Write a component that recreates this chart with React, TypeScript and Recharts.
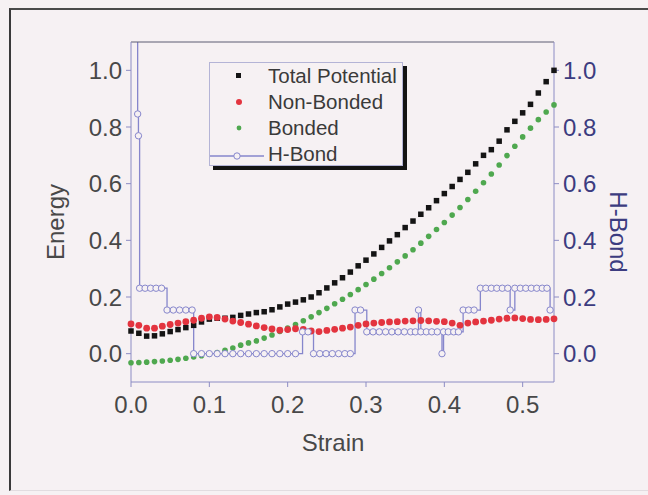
import { ComposedChart, Legend, Line, Scatter, XAxis, YAxis } from "recharts";

const FONT = '"Liberation Sans", Arial, sans-serif';

const strain = [
  0, 0.01, 0.02, 0.03, 0.04, 0.05, 0.06, 0.07, 0.08, 0.09, 0.1, 0.11, 0.12, 0.13, 0.14, 0.15, 0.16, 0.17, 0.18,
  0.19, 0.2, 0.21, 0.22, 0.23, 0.24, 0.25, 0.26, 0.27, 0.28, 0.29, 0.3, 0.31, 0.32, 0.33, 0.34, 0.35, 0.36, 0.37,
  0.38, 0.39, 0.4, 0.41, 0.42, 0.43, 0.44, 0.45, 0.46, 0.47, 0.48, 0.49, 0.5, 0.51, 0.52, 0.53, 0.54,
];

const totalPotential = [
  0.08, 0.072, 0.062, 0.063, 0.07, 0.078, 0.085, 0.092, 0.1, 0.112, 0.122, 0.125, 0.125, 0.128, 0.135, 0.14, 0.145,
  0.148, 0.155, 0.165, 0.175, 0.182, 0.19, 0.2, 0.215, 0.232, 0.25, 0.268, 0.288, 0.31, 0.33, 0.352, 0.375, 0.398,
  0.42, 0.445, 0.468, 0.492, 0.515, 0.54, 0.565, 0.59, 0.615, 0.64, 0.67, 0.7, 0.72, 0.75, 0.79, 0.82, 0.85, 0.88,
  0.92, 0.96, 1.0,
];

const nonBonded = [
  0.105, 0.1, 0.09, 0.09, 0.097, 0.103, 0.108, 0.113, 0.118, 0.125, 0.13, 0.128, 0.122, 0.115, 0.11, 0.104, 0.098,
  0.092, 0.087, 0.083, 0.085, 0.088, 0.086, 0.08, 0.078, 0.082, 0.086, 0.09, 0.094, 0.1, 0.105, 0.108, 0.11, 0.112,
  0.113, 0.115, 0.116, 0.117, 0.116, 0.114, 0.113, 0.108, 0.1, 0.108, 0.112, 0.115, 0.118, 0.122, 0.125, 0.126,
  0.124, 0.121, 0.12, 0.121, 0.123,
];

const bonded = [
  -0.032, -0.031, -0.03, -0.028, -0.026, -0.023, -0.02, -0.016, -0.012, -0.007, -0.002, 0.004, 0.012, 0.02, 0.03,
  0.038, 0.045, 0.055, 0.066, 0.078, 0.09, 0.103, 0.116, 0.13, 0.145, 0.16, 0.176, 0.192, 0.209, 0.226, 0.244, 0.263,
  0.283, 0.303, 0.324, 0.345, 0.367, 0.39, 0.414, 0.438, 0.463, 0.489, 0.516, 0.544, 0.573, 0.603, 0.634, 0.666,
  0.699, 0.732, 0.765, 0.796, 0.826, 0.853, 0.878,
];

const hBondStrain = [
  0.0085, 0.0085, 0.0095, 0.011, 0.018, 0.025, 0.032, 0.039, 0.046, 0.054, 0.062, 0.07, 0.078, 0.08, 0.09, 0.1, 0.11,
  0.12, 0.13, 0.14, 0.15, 0.16, 0.17, 0.18, 0.19, 0.2, 0.21, 0.219, 0.226, 0.233, 0.241, 0.249, 0.257, 0.265, 0.273,
  0.28, 0.286, 0.293, 0.301, 0.309, 0.317, 0.325, 0.333, 0.341, 0.349, 0.357, 0.363, 0.367, 0.37, 0.377, 0.384, 0.391,
  0.397, 0.399, 0.405, 0.412, 0.418, 0.424, 0.431, 0.438, 0.446, 0.453, 0.46, 0.467, 0.474, 0.481, 0.484, 0.49, 0.497,
  0.504, 0.511, 0.518, 0.525, 0.531, 0.535,
];

const hBondValue = [
  1.3, 0.846, 0.769, 0.231, 0.231, 0.231, 0.231, 0.231, 0.154, 0.154, 0.154, 0.154, 0.154, 0, 0, 0, 0, 0, 0, 0, 0, 0,
  0, 0, 0, 0, 0, 0.077, 0.077, 0, 0, 0, 0, 0, 0, 0, 0.154, 0.154, 0.077, 0.077, 0.077, 0.077, 0.077, 0.077, 0.077,
  0.077, 0.077, 0.154, 0.077, 0.077, 0.077, 0.077, 0, 0.077, 0.077, 0.077, 0.077, 0.154, 0.154, 0.154, 0.231, 0.231,
  0.231, 0.231, 0.231, 0.231, 0.154, 0.231, 0.231, 0.231, 0.231, 0.231, 0.231, 0.231, 0.154,
];

const energyTicks = [0, 0.2, 0.4, 0.6, 0.8, 1.0];
const strainTicks = [0, 0.1, 0.2, 0.3, 0.4, 0.5];

const totalData = strain.map((s, i) => ({ strain: s, value: totalPotential[i] }));
const nonBondedData = strain.map((s, i) => ({ strain: s, value: nonBonded[i] }));
const bondedData = strain.map((s, i) => ({ strain: s, value: bonded[i] }));
const hBondData = hBondStrain.map((s, i) => ({ strain: s, hbond: hBondValue[i] }));

const AXIS = "#8c8cc4";
const HB = "#8686cc";
const BG = "#f6f1f3";
const GREY = "#484848";
const NAVY = "#3c3c80";

const square = (size: number) => (props: any) => {
  const { cx, cy, fill } = props;
  if (cx == null || cy == null) return <g />;
  return <rect x={cx - size / 2} y={cy - size / 2} width={size} height={size} fill={fill} />;
};

const round = (r: number) => (props: any) => {
  const { cx, cy, fill } = props;
  if (cx == null || cy == null) return <g />;
  return <circle cx={cx} cy={cy} r={r} fill={fill} />;
};

// label element: own prop names so Recharts' injected x/y/angle don't clash
function AxisTitle({ px, py, rot, color, txt }: any) {
  return (
    <text
      x={px}
      y={py}
      transform={`rotate(${rot} ${px} ${py})`}
      textAnchor="middle"
      dominantBaseline="central"
      fill={color}
      fontSize={24}
      fontFamily={FONT}
    >
      {txt}
    </text>
  );
}

function LegendBox() {
  const row = { height: 26, display: "flex", alignItems: "center" } as const;
  const mark = { width: 58, display: "flex", justifyContent: "center" } as const;
  return (
    <div
      style={{
        width: 194,
        height: 104,
        border: "1px solid #b4b4d6",
        boxShadow: "4px 4px 0 #141414",
        background: BG,
        fontFamily: FONT,
        fontSize: 20.5,
        color: "#3a3a3a",
        boxSizing: "border-box",
        lineHeight: "26px",
        paddingTop: 0,
      }}
    >
      <div style={row}>
        <div style={mark}>
          <svg width="8" height="8"><rect x="1" y="1" width="5" height="5" fill="#141414" /></svg>
        </div>
        Total Potential
      </div>
      <div style={row}>
        <div style={mark}>
          <svg width="8" height="8"><circle cx="4" cy="4" r="3" fill="#e3343f" /></svg>
        </div>
        Non-Bonded
      </div>
      <div style={row}>
        <div style={mark}>
          <svg width="8" height="8"><circle cx="4" cy="4" r="2.4" fill="#4fa84f" /></svg>
        </div>
        Bonded
      </div>
      <div style={row}>
        <div style={{ width: 58 }}>
          <svg width="56" height="10">
            <line x1="0" y1="5" x2="54" y2="5" stroke={HB} strokeWidth="1.5" />
            <circle cx="27" cy="5" r="3.2" fill={BG} stroke={HB} strokeWidth="1" />
          </svg>
        </div>
        H-Bond
      </div>
    </div>
  );
}

export default function App() {
  return (
    <div style={{ position: "absolute", left: 0, top: 0, width: 648, height: 495, background: BG, overflow: "hidden" }}>
      <div
        style={{
          position: "absolute",
          left: 9,
          top: 8,
          width: 660,
          height: 480,
          borderLeft: "2px solid #3a3a3a",
          borderTop: "2px solid #4a4a4a",
          borderBottom: "1px solid #e2dce0",
        }}
      />
      <ComposedChart
        width={648}
        height={495}
        margin={{ top: 42, right: 0, bottom: 0, left: 0 }}
        style={{ position: "absolute", left: 0, top: 0 }}
      >
        <XAxis
          dataKey="strain"
          type="number"
          domain={[0, 0.54]}
          ticks={strainTicks}
          tickFormatter={(v: number) => v.toFixed(1)}
          height={113}
          stroke={AXIS}
          tickSize={5}
          tickMargin={9}
          tick={{ fill: GREY, fontSize: 24, fontFamily: FONT }}
          label={<AxisTitle px={333} py={442} rot={0} color={GREY} txt="Strain" />}
        />
        <XAxis
          xAxisId="top"
          dataKey="strain"
          type="number"
          orientation="top"
          mirror
          domain={[0, 0.54]}
          ticks={strainTicks}
          tick={false}
          tickSize={5}
          stroke="#5c5c72"
        />
        <YAxis
          yAxisId="left"
          type="number"
          domain={[-0.1, 1.1]}
          ticks={energyTicks}
          tickFormatter={(v: number) => v.toFixed(1)}
          width={131}
          stroke={AXIS}
          tickSize={5}
          tickMargin={4}
          tick={{ fill: GREY, fontSize: 24, fontFamily: FONT }}
          label={<AxisTitle px={55} py={222} rot={-90} color={GREY} txt="Energy" />}
        />
        <YAxis
          yAxisId="right"
          orientation="right"
          type="number"
          domain={[-0.1, 1.1]}
          allowDataOverflow
          ticks={energyTicks}
          tickFormatter={(v: number) => v.toFixed(1)}
          width={94}
          stroke={AXIS}
          tickSize={5}
          tickMargin={4}
          tick={{ fill: NAVY, fontSize: 24, fontFamily: FONT }}
          label={<AxisTitle px={618} py={232} rot={90} color={NAVY} txt="H-Bond" />}
        />
        <Line
          yAxisId="right"
          data={hBondData}
          dataKey="hbond"
          name="H-Bond"
          type="stepAfter"
          stroke={HB}
          strokeWidth={1.3}
          dot={{ r: 3.2, fill: BG, stroke: HB, strokeWidth: 1 }}
          isAnimationActive={false}
        />
        <Scatter
          yAxisId="left"
          data={bondedData}
          dataKey="value"
          name="Bonded"
          fill="#4fa84f"
          shape={round(2.8)}
          isAnimationActive={false}
        />
        <Scatter
          yAxisId="left"
          data={totalData}
          dataKey="value"
          name="Total Potential"
          fill="#141414"
          shape={square(5.5)}
          isAnimationActive={false}
        />
        <Scatter
          yAxisId="left"
          data={nonBondedData}
          dataKey="value"
          name="Non-Bonded"
          fill="#e3343f"
          shape={round(3.4)}
          isAnimationActive={false}
        />
        <Legend
          layout="vertical"
          align="center"
          verticalAlign="middle"
          content={() => <LegendBox />}
          wrapperStyle={{ left: 209, top: 62, width: 194, height: 104 }}
        />
      </ComposedChart>
    </div>
  );
}
